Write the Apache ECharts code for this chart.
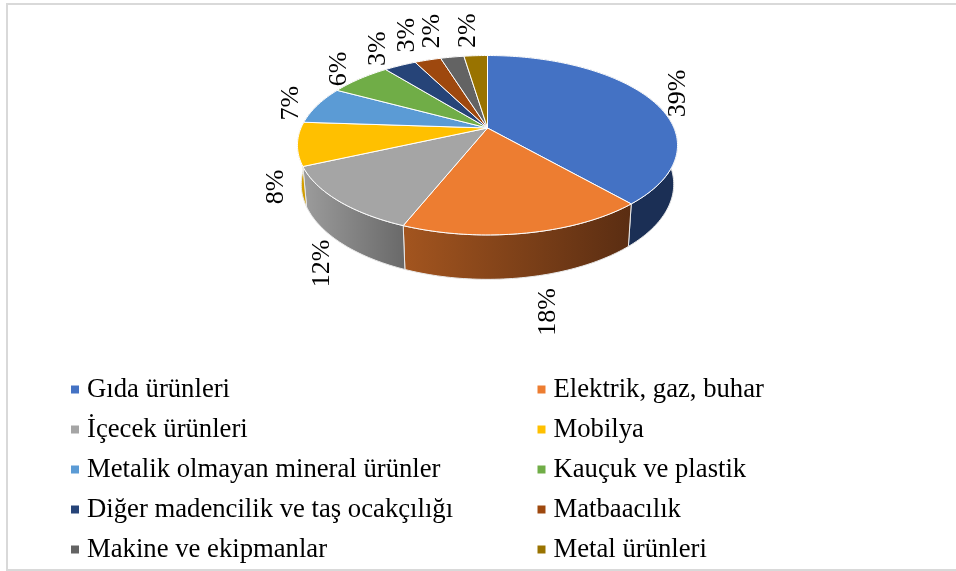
<!DOCTYPE html>
<html><head><meta charset="utf-8">
<style>html,body{margin:0;padding:0;background:#fff}#c{width:956px;height:571px}</style>
<script src="https://cdn.jsdelivr.net/npm/echarts@6/dist/echarts.min.js"></script>
</head><body><div id="c"></div>
<script>
const categories = ['Gıda ürünleri','Elektrik, gaz, buhar','İçecek ürünleri','Mobilya','Metalik olmayan mineral ürünler','Kauçuk ve plastik','Diğer madencilik ve taş ocakçılığı','Matbaacılık','Makine ve ekipmanlar','Metal ürünleri'];
const values = [38.5,17.5,12.2,7.8,6.8,6.3,3.3,2.7,2.4,2.4];
const colors = ['#4472C4','#ED7D31','#A5A5A5','#FFC000','#5B9BD5','#70AD47','#264478','#9E480E','#636363','#997300'];
const sideColors = [['#1b2f55','#1b2f55'],['#a3551f','#5a2d12'],['#9c9c9c','#696969'],['#e0a800','#c79500'],['#2c5a85','#2c5a85'],['#3f6a28','#3f6a28'],['#16294a','#16294a'],['#5c2a08','#5c2a08'],['#3a3a3a','#3a3a3a'],['#5c4500','#5c4500']];

// layout of the projected disc, not data
const P = {cx:487.5, y0:128, A:186.5, B:86.4, k:0.192, bx:0.98, by:1.06, d:38};
const labelShift = [[27,-6],[22,79],[-16,63],[-21,43],[-26,-2],[-21,-10],[-22,-17],[-21,-25],[-20,-26],[-8,-25]];

const total = values.reduce((a,b)=>a+b,0);
function topPt(th){const c=Math.sin(th),s=-Math.cos(th),w=1-P.k*s;return [P.cx+P.A*c/w,P.y0+P.B*s/w];}
function botPt(th){const p=topPt(th);return [P.cx+P.bx*(p[0]-P.cx),P.y0+P.d+P.by*(p[1]-P.y0)];}
const starts=[];values.reduce((a,v,i)=>{starts[i]=a;return a+v;},0);

function renderItem(idx){
  return function(params,api){
    const a0=starts[idx]/total*2*Math.PI,a1=(starts[idx]+values[idx])/total*2*Math.PI;
    const n=Math.max(8,Math.ceil((a1-a0)/0.02));
    const tp=[],bt=[];
    for(let i=0;i<=n;i++){const t=a0+(a1-a0)*i/n;tp.push(topPt(t));bt.push(botPt(t));}
    const side=tp.concat(bt.slice().reverse());
    const xs=side.map(p=>p[0]),minx=Math.min.apply(null,xs),maxx=Math.max.apply(null,xs);
    const face=[[P.cx,P.y0]].concat(tp);
    const m=topPt((a0+a1)/2);
    return {type:'group',children:[
      {type:'polygon',z2:1,shape:{points:side},style:{fill:{type:'linear',x:minx,y:0,x2:maxx,y2:0,global:true,colorStops:[{offset:0,color:sideColors[idx][0]},{offset:1,color:sideColors[idx][1]}]},stroke:'#e9e9e9',lineWidth:1}},
      {type:'polygon',z2:10,shape:{points:face},style:{fill:colors[idx],stroke:'#fff',lineWidth:1,lineJoin:'round'}},
      {type:'text',z2:20,x:m[0]+labelShift[idx][0],y:m[1]+labelShift[idx][1],rotation:Math.PI/2,style:{text:Math.round(values[idx])+'%',fill:'#000',font:'26px "Liberation Serif"',align:'center',verticalAlign:'middle'}}
    ]};
  };
}

const series=categories.map((name,i)=>({type:'custom',name,coordinateSystem:'none',silent:true,animation:false,itemStyle:{color:colors[i]},data:[[values[i]]],renderItem:renderItem(i)}));
const legendBase={orient:'vertical',top:376,height:195,padding:0,itemWidth:8,itemHeight:8,itemGap:13,icon:'rect',selectedMode:false,textStyle:{fontFamily:'Liberation Serif',fontSize:26.7,color:'#000',padding:[0,0,0,3],lineHeight:26}};
const chart=echarts.init(document.getElementById('c'),null,{renderer:'canvas'});
chart.setOption({animation:false,backgroundColor:'#fff',
  legend:[Object.assign({},legendBase,{left:71,data:categories.filter((_,i)=>i%2==0)}),Object.assign({},legendBase,{left:537.5,data:categories.filter((_,i)=>i%2==1)})],
  graphic:[{type:'rect',z:-1,shape:{x:7,y:4,width:960,height:566},style:{fill:'none',stroke:'#d9d9d9',lineWidth:2},silent:true}],
  series});
</script></body></html>
